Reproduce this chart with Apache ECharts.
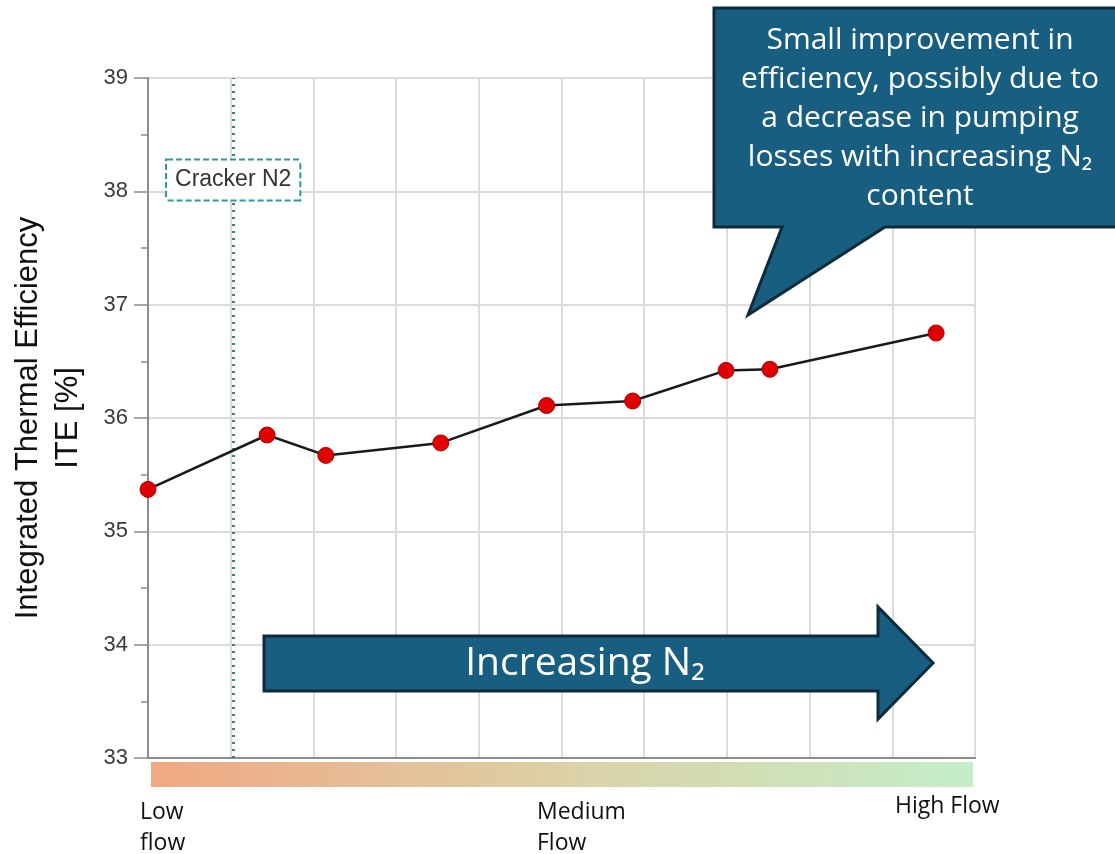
<!DOCTYPE html>
<html>
<head>
<meta charset="utf-8">
<script src="https://cdn.jsdelivr.net/npm/echarts@6/dist/echarts.min.js"></script>
<style>
  html, body { margin: 0; padding: 0; background: #ffffff; }
  #chart { width: 1115px; height: 854px; }
</style>
</head>
<body>
<div id="chart"></div>
<script>
// flow position (arbitrary 0-10 scale) and integrated thermal efficiency
const flowPos = [0, 1.44, 2.15, 3.54, 4.82, 5.86, 6.99, 7.52, 9.53]
const iteValues = [35.37, 35.85, 35.67, 35.78, 36.11, 36.15, 36.42, 36.43, 36.75]
const crackerPos = 1.03
const yTicks = [33, 34, 35, 36, 37, 38, 39]
const flowLabels = ["Low\nflow", "Medium\nFlow", "High Flow"]
const calloutLines = [
  "Small improvement in",
  "efficiency, possibly due to",
  "a decrease in pumping",
  "losses with increasing N₂",
  "content"
]

const chart = echarts.init(document.getElementById("chart"))

const boxFill = "#185e80"
const boxEdge = "#0d2b3a"

chart.setOption({
  backgroundColor: "#ffffff",
  animation: false,
  grid: {
    left: 148,
    right: 140,
    top: 78,
    bottom: 96,
    containLabel: false,
    outerBoundsMode: "none",
    show: true,
    borderColor: "#8c8c8c",
    borderWidth: 2
  },
  xAxis: {
    type: "value",
    min: 0,
    max: 10,
    interval: 1,
    axisLine: { show: true, lineStyle: { color: "#8c8c8c", width: 2 } },
    axisTick: { show: false },
    axisLabel: { show: false },
    splitLine: { show: true, lineStyle: { color: "#dcdcdc", width: 2 } }
  },
  yAxis: {
    type: "value",
    min: yTicks[0],
    max: yTicks[yTicks.length - 1],
    interval: 1,
    name: "Integrated Thermal Efficiency\nITE [%]",
    nameLocation: "middle",
    nameGap: 60,
    nameTextStyle: {
      fontFamily: "Liberation Sans",
      fontSize: 31,
      color: "#111",
      lineHeight: 40
    },
    axisLine: { show: true, lineStyle: { color: "#8c8c8c", width: 2 } },
    axisTick: { show: true, inside: false, length: 14, lineStyle: { color: "#8c8c8c", width: 1.5 } },
    minorTick: { show: true, splitNumber: 2, length: 7, lineStyle: { color: "#8c8c8c", width: 1.5 } },
    axisLabel: {
      fontFamily: "Liberation Sans",
      fontSize: 22,
      color: "#3a3a3a",
      margin: 20
    },
    splitLine: { show: true, lineStyle: { color: "#dcdcdc", width: 2 } }
  },
  series: [
    {
      type: "line",
      data: flowPos.map((x, i) => [x, iteValues[i]]),
      symbol: "circle",
      symbolSize: 16,
      lineStyle: { color: "#1a1a1a", width: 2.5 },
      itemStyle: { color: "#e00000", borderColor: "#b00000", borderWidth: 1 },
      z: 5,
      markLine: {
        silent: true,
        symbol: "none",
        label: { show: false },
        lineStyle: { color: "#3d7f86", width: 3, type: [2, 5] },
        data: [{ xAxis: crackerPos }]
      },
      markPoint: {
        silent: true,
        symbol: "rect",
        symbolSize: 0,
        data: [{ coord: [crackerPos, 38.1] }],
        label: {
          show: true,
          position: "inside",
          formatter: "Cracker N2",
          fontFamily: "Liberation Sans",
          fontSize: 23,
          color: "#333",
          backgroundColor: "#ffffff",
          borderColor: "#2a9a9a",
          borderWidth: 2,
          borderType: [6, 3],
          padding: [8, 8, 8, 8]
        }
      }
    }
  ],
  graphic: [
    // flow gradient bar under the axis
    {
      type: "rect",
      shape: { x: 151, y: 762, width: 822, height: 25 },
      style: {
        fill: new echarts.graphic.LinearGradient(0, 0, 1, 0, [
          { offset: 0, color: "#f0a882" },
          { offset: 0.5, color: "#dcd0a6" },
          { offset: 1, color: "#c4eec8" }
        ])
      },
      silent: true
    },
    {
      type: "text", left: 140, top: 797,
      style: { text: flowLabels[0], font: "23px 'Open Sans'", fill: "#111", lineHeight: 31 }
    },
    {
      type: "text", left: 537, top: 797,
      style: { text: flowLabels[1], font: "23px 'Open Sans'", fill: "#111", lineHeight: 31 }
    },
    {
      type: "text", left: 895, top: 795,
      style: { text: flowLabels[2], font: "23px 'Open Sans'", fill: "#111" }
    },
    // "Increasing N2" arrow
    {
      type: "polygon",
      shape: {
        points: [[264, 636], [878, 636], [878, 607], [933, 663], [878, 719], [878, 691], [264, 691]]
      },
      style: { fill: boxFill, stroke: boxEdge, lineWidth: 3 },
      z: 10
    },
    {
      type: "text", x: 585, y: 664, z: 11,
      style: {
        text: "Increasing N₂",
        font: "39px 'Open Sans'",
        fill: "#ffffff",
        align: "center",
        verticalAlign: "middle"
      }
    },
    // callout
    {
      type: "polygon",
      shape: {
        points: [[714, 8], [1118, 8], [1118, 227], [885, 227], [748, 315], [782, 227], [714, 227]]
      },
      style: { fill: boxFill, stroke: boxEdge, lineWidth: 3 },
      z: 10
    },
    {
      type: "text", x: 920, y: 118, z: 11,
      style: {
        text: calloutLines.join("\n"),
        font: "30px 'Open Sans'",
        lineHeight: 39,
        fill: "#ffffff",
        align: "center",
        verticalAlign: "middle"
      }
    }
  ]
})
</script>
</body>
</html>
